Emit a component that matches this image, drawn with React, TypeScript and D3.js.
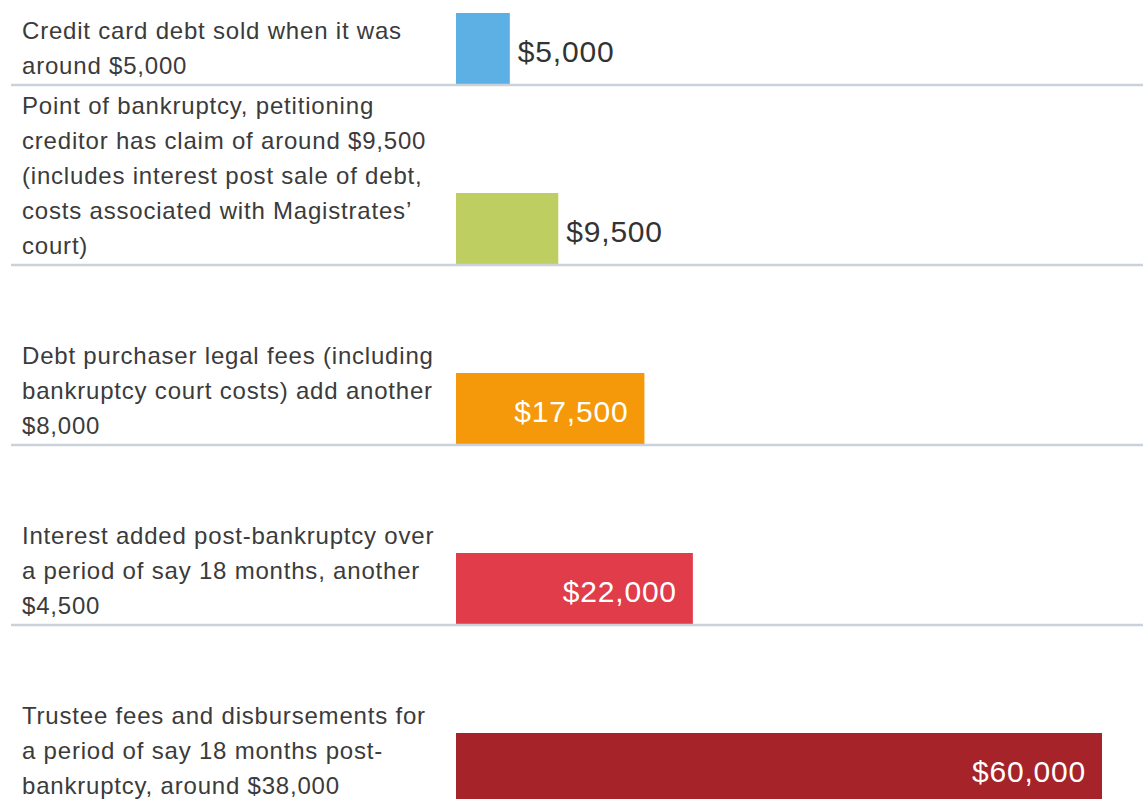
import React from "react";
import * as d3 from "d3";

const categories: string[][] = [
  ["Credit card debt sold when it was", "around $5,000"],
  [
    "Point of bankruptcy, petitioning",
    "creditor has claim of around $9,500",
    "(includes interest post sale of debt,",
    "costs associated with Magistrates’",
    "court)",
  ],
  ["Debt purchaser legal fees (including", "bankruptcy court costs) add another", "$8,000"],
  ["Interest added post-bankruptcy over", "a period of say 18 months, another", "$4,500"],
  ["Trustee fees and disbursements for", "a period of say 18 months post-", "bankruptcy, around $38,000"],
];
const values: number[] = [5000, 9500, 17500, 22000, 60000];
const colors: string[] = ["#5DB0E4", "#BFCE61", "#F5980A", "#E03C4A", "#A6232A"];
const insideThreshold = 17500;

const W = 1146;
const H = 799;
const FONT = "'Helvetica Neue', Helvetica, 'Liberation Sans', Arial, sans-serif";

export default function App() {
  const x = d3.scaleLinear().domain([0, 60000]).range([456, 1102]);
  const rowY = d3
    .scaleLinear()
    .domain([0, 1])
    .range([85, 265]);
  const fmt = (v: number) => "$" + d3.format(",")(v);
  const barH = 71;
  const lineH = 35;

  return (
    <svg
      width={W}
      height={H}
      style={{ position: "fixed", left: 0, top: 0, background: "#fff" }}
      fontFamily={FONT}
    >
      {values.map((v, i) => {
        const base = rowY(i);
        const lines = categories[i];
        const inside = v >= insideThreshold;
        return (
          <g key={i}>
            <rect
              x={x(0)}
              y={base - barH - 1}
              width={x(v) - x(0)}
              height={barH}
              fill={colors[i]}
            />
            <line x1={11} x2={1143} y1={base} y2={base} stroke="#C9D2DB" strokeWidth={2.5} />
            <text
              x={inside ? x(v) - 16 : x(v) + 8}
              y={base - 23}
              textAnchor={inside ? "end" : "start"}
              fontSize={30}
              letterSpacing={0.8}
              fill={inside ? "#fff" : "#333"}
            >
              {fmt(v)}
            </text>
            {lines.map((t, j) => (
              <text
                key={j}
                x={22}
                y={base - 11 - (lines.length - 1 - j) * lineH}
                fontSize={24}
                letterSpacing={0.8}
                fill="#3b3b3b"
              >
                {t}
              </text>
            ))}
          </g>
        );
      })}
    </svg>
  );
}
